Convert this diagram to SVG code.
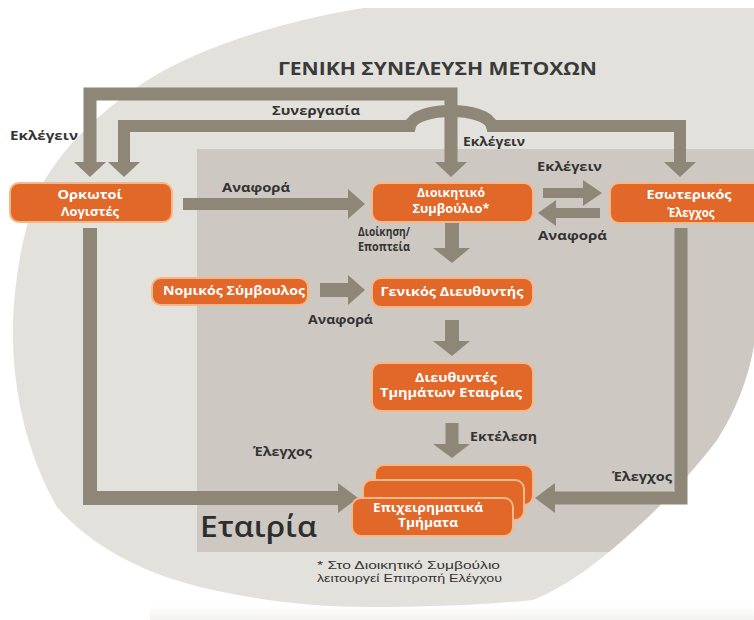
<svg xmlns="http://www.w3.org/2000/svg" width="754" height="620" viewBox="0 0 754 620">
<style>
.bg{fill:#e3e1dc}
.co{fill:#cdc9c2}
.ln{fill:none;stroke:#8e8676;stroke-linejoin:miter}
.hd{fill:#8e8676}
.bx{fill:#e2682a;stroke:#f6b888;stroke-width:2}
.bt{font-family:"Open Sans","Liberation Sans",sans-serif;font-weight:700;font-size:11.5px;fill:#ffffff;text-anchor:middle}
.lb{font-family:"Open Sans","Liberation Sans",sans-serif;font-weight:700;font-size:11.5px;fill:#333333}
.ti{font-family:"Open Sans","Liberation Sans",sans-serif;font-weight:700;font-size:17.5px;fill:#3a3a3a}
.co-t{font-family:"Open Sans","Liberation Sans",sans-serif;font-weight:600;font-size:28px;fill:#2e2e2e}
.fn{font-family:"Liberation Sans","DejaVu Sans",sans-serif;font-size:10.5px;fill:#333333}
</style>
<defs>
<clipPath id="cc">
<path id="circ" d="M 363 8 C 290 20 200 45 143 83 C 100 112 65 145 43 183 C 22 225 12 290 13 340 C 14 400 30 460 57 507 C 90 545 140 572 200 587 C 255 600 310 607 370 607 C 430 607 480 605 533 600 C 570 585 600 560 623 540 C 660 508 690 475 717 440 C 735 412 748 380 754 345 L 754 8 Z"/>
</clipPath>
<linearGradient id="strip" x1="0" y1="0" x2="0" y2="1">
<stop offset="0" stop-color="#ffffff"/>
<stop offset="1" stop-color="#f3f2f0"/>
</linearGradient>
</defs>
<rect width="754" height="620" fill="#ffffff"/>
<rect x="150" y="606" width="604" height="14" fill="url(#strip)"/>
<g id="background">
<use href="#circ" class="bg"/>
<rect class="co" x="197" y="149" width="570" height="403" clip-path="url(#cc)"/>
</g>
<text class="ti" x="278" y="75" textLength="319" lengthAdjust="spacingAndGlyphs">ΓΕΝΙΚΗ ΣΥΝΕΛΕΥΣΗ ΜΕΤΟΧΩΝ</text>
<text class="co-t" x="200" y="537" textLength="117" lengthAdjust="spacingAndGlyphs">Εταιρία</text>
<text class="fn" x="317" y="569" textLength="183" lengthAdjust="spacingAndGlyphs">* Στο Διοικητικό Συμβούλιο</text>
<text class="fn" x="317" y="582" textLength="185" lengthAdjust="spacingAndGlyphs">λειτουργεί Επιτροπή Ελέγχου</text>

<g id="connectors">
<path class="ln" stroke-width="13" d="M 90 163 V 94 H 451 V 163"/>
<path class="ln" stroke-width="12" d="M 124 163 V 126 H 410 C 415 106 487 106 492 126 H 680 V 163"/>
<polygon class="hd" points="74,162 90,177 106,162"/>
<polygon class="hd" points="108,162 124,177 140,162"/>
<polygon class="hd" points="435,162 451,177 467,162"/>
<polygon class="hd" points="664,162 680,177 696,162"/>
<path class="ln" stroke-width="14" d="M 90 228 V 498 H 340"/>
<polygon class="hd" points="338,483 358,498 338,513"/>
<path class="ln" stroke-width="13" d="M 681 228 V 498 H 554"/>
<polygon class="hd" points="555,483 535,498 555,513"/>
<path class="ln" stroke-width="12" d="M 183 204 H 349"/>
<polygon class="hd" points="348,189 365,204 348,219"/>
<path class="ln" stroke-width="14" d="M 320 290 H 349"/>
<polygon class="hd" points="348,275 365,290 348,305"/>
<path class="ln" stroke-width="10" d="M 543 193 H 584"/>
<polygon class="hd" points="583,180 602,193 583,206"/>
<path class="ln" stroke-width="10" d="M 600 213 H 555"/>
<polygon class="hd" points="556,200 538,213 556,226"/>
<path class="ln" stroke-width="14" d="M 452 222 V 249"/>
<polygon class="hd" points="433,248 452,263 470,248"/>
<path class="ln" stroke-width="14" d="M 452 320 V 342"/>
<polygon class="hd" points="433,341 452,356 470,341"/>
<path class="ln" stroke-width="13" d="M 452 423 V 445"/>
<polygon class="hd" points="433,444 452,458 470,444"/>
</g>

<g id="labels">
<text class="lb" x="10" y="140" textLength="68" lengthAdjust="spacingAndGlyphs">Εκλέγειν</text>
<text class="lb" x="272" y="115" textLength="88" lengthAdjust="spacingAndGlyphs">Συνεργασία</text>
<text class="lb" x="463" y="146" textLength="62" lengthAdjust="spacingAndGlyphs">Εκλέγειν</text>
<text class="lb" x="537" y="171" textLength="65" lengthAdjust="spacingAndGlyphs">Εκλέγειν</text>
<text class="lb" x="222" y="192" textLength="68" lengthAdjust="spacingAndGlyphs">Αναφορά</text>
<text class="lb" x="358" y="236" textLength="52" lengthAdjust="spacingAndGlyphs">Διοίκηση/</text>
<text class="lb" x="358" y="251" textLength="52" lengthAdjust="spacingAndGlyphs">Εποπτεία</text>
<text class="lb" x="308" y="324" textLength="65" lengthAdjust="spacingAndGlyphs">Αναφορά</text>
<text class="lb" x="538" y="240" textLength="69" lengthAdjust="spacingAndGlyphs">Αναφορά</text>
<text class="lb" x="470" y="441" textLength="67" lengthAdjust="spacingAndGlyphs">Εκτέλεση</text>
<text class="lb" x="253" y="456" textLength="59" lengthAdjust="spacingAndGlyphs">Έλεγχος</text>
<text class="lb" x="612" y="481" textLength="60" lengthAdjust="spacingAndGlyphs">Έλεγχος</text>
</g>

<g id="n-orkotoi">
<rect class="bx" x="10" y="183" width="162" height="39" rx="9"/>
<text class="bt" x="90" y="199" textLength="65" lengthAdjust="spacingAndGlyphs">Ορκωτοί</text>
<text class="bt" x="90" y="216" textLength="58" lengthAdjust="spacingAndGlyphs">Λογιστές</text>
</g>
<g id="n-ds">
<rect class="bx" x="372" y="183" width="161" height="39" rx="9"/>
<text class="bt" x="451" y="197" textLength="68" lengthAdjust="spacingAndGlyphs">Διοικητικό</text>
<text class="bt" x="451" y="213" textLength="77" lengthAdjust="spacingAndGlyphs">Συμβούλιο*</text>
</g>
<g id="n-esoterikos">
<rect class="bx" x="610" y="183" width="162" height="40" rx="9"/>
<text class="bt" x="689" y="199" textLength="85" lengthAdjust="spacingAndGlyphs">Εσωτερικός</text>
<text class="bt" x="691" y="217" textLength="47" lengthAdjust="spacingAndGlyphs">Έλεγχος</text>
</g>
<g id="n-nomikos">
<rect class="bx" x="152" y="278" width="156" height="27" rx="9"/>
<text class="bt" x="234" y="295" textLength="142" lengthAdjust="spacingAndGlyphs">Νομικός Σύμβουλος</text>
</g>
<g id="n-genikos">
<rect class="bx" x="372" y="278" width="161" height="29" rx="9"/>
<text class="bt" x="452" y="296" textLength="143" lengthAdjust="spacingAndGlyphs">Γενικός Διευθυντής</text>
</g>
<g id="n-dieuthyntes">
<rect class="bx" x="372" y="363" width="161" height="48" rx="9"/>
<text class="bt" x="456" y="382" textLength="82" lengthAdjust="spacingAndGlyphs">Διευθυντές</text>
<text class="bt" x="451" y="397" textLength="142" lengthAdjust="spacingAndGlyphs">Τμημάτων Εταιρίας</text>
</g>
<g id="n-tmimata">
<rect class="bx" x="375" y="465" width="158" height="40" rx="9"/>
<rect class="bx" x="363" y="480" width="161" height="40" rx="9"/>
<rect class="bx" x="352" y="498" width="161" height="38" rx="9"/>
<text class="bt" x="428" y="512" textLength="110" lengthAdjust="spacingAndGlyphs">Επιχειρηματικά</text>
<text class="bt" x="428" y="527" textLength="60" lengthAdjust="spacingAndGlyphs">Τμήματα</text>
</g>
</svg>
